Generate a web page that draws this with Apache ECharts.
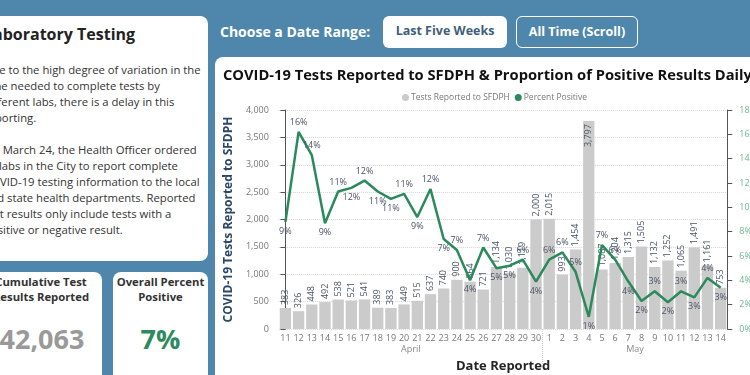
<!DOCTYPE html>
<html>
<head>
<meta charset="UTF-8">
<script src="https://cdn.jsdelivr.net/npm/echarts@6.0.0/dist/echarts.min.js"></script>
<style>
body { margin:0; padding:0; width:750px; height:375px; overflow:hidden; position:relative; background:#4e87ab; font-family:'Open Sans', sans-serif; }
.card { position:absolute; background:#fff; border-radius:8px; }
.abs { position:absolute; white-space:nowrap; }
#chart { position:absolute; left:215px; top:57px; width:545px; height:330px; background:#fff; border-radius:8px; overflow:hidden; }
.btn { position:absolute; top:16px; height:32px; box-sizing:border-box; border-radius:6px; font-weight:700; font-size:12.5px; line-height:30px; text-align:center; }
</style>
</head>
<body>
<div class="card" style="left:-30px; top:16px; width:238px; height:245px;"></div>
<div class="abs" style="left:-16px; top:23px; font-size:16px; font-weight:700; color:#222;">Laboratory Testing</div>
<div class="abs" style="left:-16px; top:62px; font-size:11.3px; line-height:16px; color:#333;">
Due to the high degree of variation in the<br>time needed to complete tests by<br>different labs, there is a delay in this<br>reporting.<br><br>On March 24, the Health Officer ordered<br>all labs in the City to report complete<br>COVID-19 testing information to the local<br>and state health departments. Reported<br>test results only include tests with a<br>positive or negative result.
</div>

<div class="card" style="left:-30px; top:272px; width:132px; height:120px;"></div>
<div class="abs" style="left:-25px; top:274px; width:132px; text-align:center; font-size:11.3px; font-weight:700; line-height:15px; color:#333;">Cumulative Test<br>Results Reported</div>
<div class="abs" style="left:-26px; top:320px; width:136px; text-align:center; font-size:27px; font-weight:700; color:#999;">42,063</div>

<div class="card" style="left:113px; top:272px; width:95px; height:120px;"></div>
<div class="abs" style="left:113px; top:274px; width:95px; text-align:center; font-size:11.3px; font-weight:700; line-height:15px; color:#333;">Overall Percent<br>Positive</div>
<div class="abs" style="left:113px; top:320px; width:95px; text-align:center; font-size:27px; font-weight:700; color:#2e8b5e;">7%</div>

<div class="abs" style="left:220px; top:22px; font-size:14px; font-weight:700; color:#fff;">Choose a Date Range:</div>
<div class="btn" style="left:383px; width:124px; background:#fff; color:#3f5f7a;">Last Five Weeks</div>
<div class="btn" style="left:516px; width:122px; border:1.5px solid #fff; color:#fff;">All Time (Scroll)</div>

<div id="chart"></div>
<script>
// days reported, 11 April - 14 May
const days = [11, 12, 13, 14, 15, 16, 17, 18, 19, 20, 21, 22, 23, 24, 25, 26, 27, 28, 29, 30,
  1, 2, 3, 4, 5, 6, 7, 8, 9, 10, 11, 12, 13, 14];
const monthNames = ['April', 'May'];
const testsReported = [383, 326, 448, 492, 538, 521, 541, 389, 383, 449, 515, 637, 740, 900, 864, 721, 1134, 1030, 1119, 2000,
  2015, 993, 1454, 3797, 1087, 1204, 1315, 1505, 1132, 1252, 1065, 1491, 1161, 753];
const percentPositive = [8.8, 16.2, 14.3, 8.7, 11.3, 11.6, 12.2, 11.3, 10.7, 11.1, 9.2, 11.5, 7.4, 6.5, 4.0, 6.7, 5.0, 5.2, 5.7, 3.9,
  5.7, 6.3, 4.7, 1.0, 6.9, 5.7, 3.9, 2.3, 3.1, 2.2, 3.1, 2.6, 4.2, 3.4];
const testsAxisMax = 4000, testsAxisStep = 500;
const pctAxisMax = 18, pctAxisStep = 2;

const FONT = "'Open Sans', sans-serif";
const LABEL_COLOR = '#4a5566';

// which month each day belongs to (month rolls over when the day number drops)
const monthOf = [];
days.forEach((d, i) => monthOf.push(i === 0 ? 0 : monthOf[i - 1] + (d < days[i - 1] ? 1 : 0)));
const monthMid = [], monthBreaks = [];
monthNames.forEach((m, k) => {
  const idx = monthOf.map((v, i) => v === k ? i : -1).filter(i => i >= 0);
  monthMid.push((idx[0] + idx[idx.length - 1]) / 2);
  if (k > 0) monthBreaks.push(idx[0] - 0.5);
});

const barData = testsReported.map(v => {
  const inside = v / testsAxisMax > 0.85;
  return {
    value: v,
    label: inside ? { position: 'insideTop', align: 'right' } : { position: 'top', align: 'left' }
  };
});

const lineData = percentPositive.map((v, i) => {
  const prev = i > 0 ? percentPositive[i - 1] : percentPositive[i + 1];
  const next = i < percentPositive.length - 1 ? percentPositive[i + 1] : percentPositive[i - 1];
  const up = v >= (prev + next) / 2;
  return { value: v, label: { position: up ? 'top' : 'bottom' } };
});

const chart = echarts.init(document.getElementById('chart'));
chart.setOption({
  animation: false,
  textStyle: { fontFamily: FONT },
  title: {
    text: 'COVID-19 Tests Reported to SFDPH & Proportion of Positive Results Daily',
    left: 3, top: 6,
    textStyle: { fontFamily: FONT, fontSize: 14.7, fontWeight: 'bold', color: '#111' }
  },
  legend: {
    left: 182, top: 31,
    icon: 'circle', itemWidth: 7, itemHeight: 7, itemGap: 5,
    textStyle: { fontFamily: FONT, fontSize: 8.5, color: '#777', padding: [0, 0, 0, -3] },
    data: ['Tests Reported to SFDPH', 'Percent Positive']
  },
  grid: { left: 57, right: 30, top: 53, bottom: 58 },
  xAxis: [{
    type: 'category',
    data: days.map(String),
    axisLine: { show: false },
    axisTick: { show: false },
    axisLabel: { fontSize: 9, color: '#777', margin: 5, interval: 0 },
    name: 'Date Reported',
    nameLocation: 'middle',
    nameGap: 31,
    nameTextStyle: { fontFamily: FONT, fontSize: 13, fontWeight: 'bold', color: '#252525' }
  }, {
    type: 'value',
    position: 'bottom',
    min: -0.5, max: days.length - 0.5,
    axisLine: { show: false },
    splitLine: { show: false },
    axisTick: { show: true, customValues: monthBreaks, length: 36, lineStyle: { type: 'dotted', color: '#c8c8c8' } },
    axisLabel: {
      customValues: monthMid, margin: 16, fontSize: 9, color: '#888',
      formatter: v => monthNames[monthMid.indexOf(v)] || ''
    }
  }],
  yAxis: [{
    type: 'value',
    min: 0, max: testsAxisMax, interval: testsAxisStep,
    axisLabel: { fontSize: 9, color: '#777', margin: 10, formatter: v => v.toLocaleString('en-US') },
    splitLine: { lineStyle: { type: 'dotted', color: '#d4d4d4' } },
    name: 'COVID-19 Tests Reported to SFDPH',
    nameLocation: 'middle',
    nameGap: 40,
    nameTextStyle: { fontFamily: FONT, fontSize: 12, fontWeight: 'bold', color: '#2b4868' }
  }, {
    type: 'value',
    min: 0, max: pctAxisMax, interval: pctAxisStep,
    axisLabel: { fontSize: 9, color: '#6db893', margin: 12, formatter: v => v + '%' },
    splitLine: { show: false }
  }],
  series: [{
    name: 'Tests Reported to SFDPH',
    type: 'bar',
    data: barData,
    barCategoryGap: '14%',
    itemStyle: { color: '#cbcbcb' },
    label: {
      show: true, rotate: 90, verticalAlign: 'middle', distance: 3,
      fontSize: 9, color: LABEL_COLOR,
      formatter: p => p.value.toLocaleString('en-US')
    },
    z: 1
  }, {
    name: 'Percent Positive',
    type: 'line',
    yAxisIndex: 1,
    data: lineData,
    symbol: 'circle', symbolSize: 0,
    itemStyle: { color: '#2a8a5c' },
    lineStyle: { width: 2.5, color: '#2a8a5c' },
    label: {
      show: true, fontSize: 9, color: LABEL_COLOR, distance: 5,
      formatter: p => Math.round(p.value) + '%'
    },
    z: 3
  }]
});
</script>
</body>
</html>
